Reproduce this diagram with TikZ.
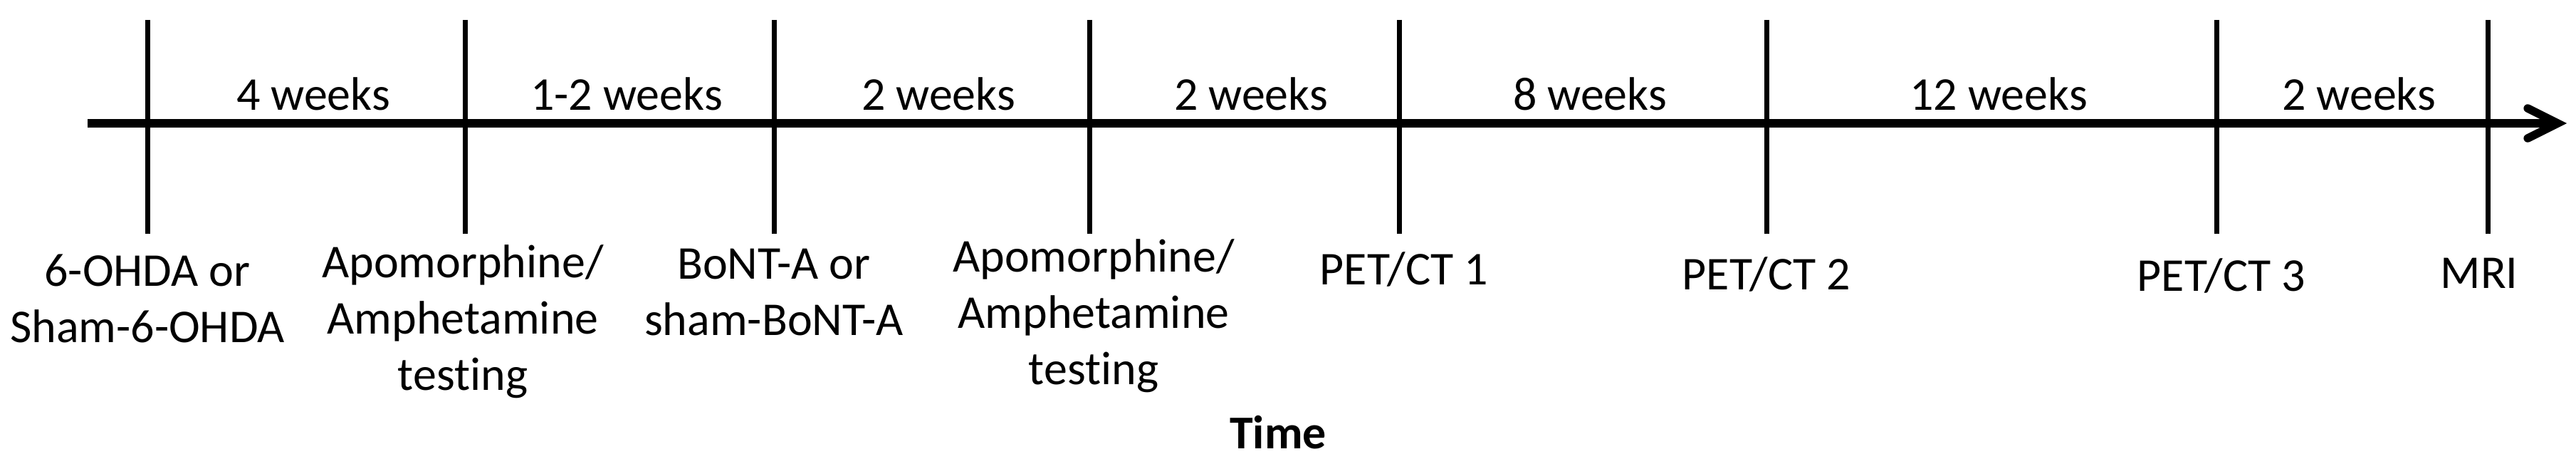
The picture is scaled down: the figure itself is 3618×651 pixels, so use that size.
\documentclass[tikz,border=0pt]{standalone}
\usepackage{fontspec}
\setmainfont{Carlito}[Ligatures=NoCommon]
\usetikzlibrary{arrows.meta}
\tikzstyle{event}=[anchor=base, align=center, inner sep=0pt]
\tikzstyle{lapse}=[anchor=base, inner sep=0pt]
\tikzstyle{tick}=[line width=1.4pt]
\newcommand{\event}{\node[event]}
\newcommand{\lapse}{\node[lapse]}

\begin{document}
\begin{tikzpicture}[x=0.2pt, y=-0.2pt
  ,font=\fontsize{13.2}{15.8}\selectfont
]
\useasboundingbox (0,0) rectangle (3618,651);
\coordinate (start) at (123,173);
\coordinate (end) at (3605,173);
\coordinate (a1) at (207,28);  \coordinate (b1) at (207,328);
\coordinate (a2) at (653,28);  \coordinate (b2) at (653,328);
\coordinate (a3) at (1087,28); \coordinate (b3) at (1087,328);
\coordinate (a4) at (1530,28); \coordinate (b4) at (1530,328);
\coordinate (a5) at (1965,28); \coordinate (b5) at (1965,328);
\coordinate (a6) at (2481,28); \coordinate (b6) at (2481,328);
\coordinate (a7) at (3113,28); \coordinate (b7) at (3113,328);
\coordinate (a8) at (3494,28); \coordinate (b8) at (3494,328);
\draw[line width=2.3pt, -{Straight Barb[length=8.4pt, width=8.4pt, line cap=round]}]
  (start) -- (end);
\draw[tick]
(a1) -- (b1) (a2) -- (b2) (a3) -- (b3) (a4) -- (b4)
(a5) -- (b5) (a6) -- (b6) (a7) -- (b7) (a8) -- (b8)
;
% durations
\lapse (d1) at (440,155) {4 weeks};
\lapse (d2) at (880,155) {1-2 weeks};
\lapse (d3) at (1318,155) {2 weeks};
\lapse (d4) at (1757,155) {2 weeks};
\lapse (d5) at (2233,155) {8 weeks};
\lapse (d6) at (2807,155) {12 weeks};
\lapse (d7) at (3313,155) {2 weeks};
% events (base = last line)
\event (e1) at (207,481) {6-OHDA or\\Sham-6-OHDA};
\event (e2) at (650,548) {Apomorphine/\\Amphetamine\\testing};
\event (e3) at (1087,471) {BoNT-A or\\sham-BoNT-A};
\event (e4) at (1536,540) {Apomorphine/\\Amphetamine\\testing};
\event (e5) at (1972,400) {PET/CT 1};
\event (e6) at (2481,407) {PET/CT 2};
\event (e7) at (3120,409) {PET/CT 3};
\event (e8) at (3482,405) {MRI};
\node[lapse, font=\fontsize{13.2}{15.8}\selectfont\bfseries] (time) at (1795,630) {Time};
\end{tikzpicture}
\end{document}
